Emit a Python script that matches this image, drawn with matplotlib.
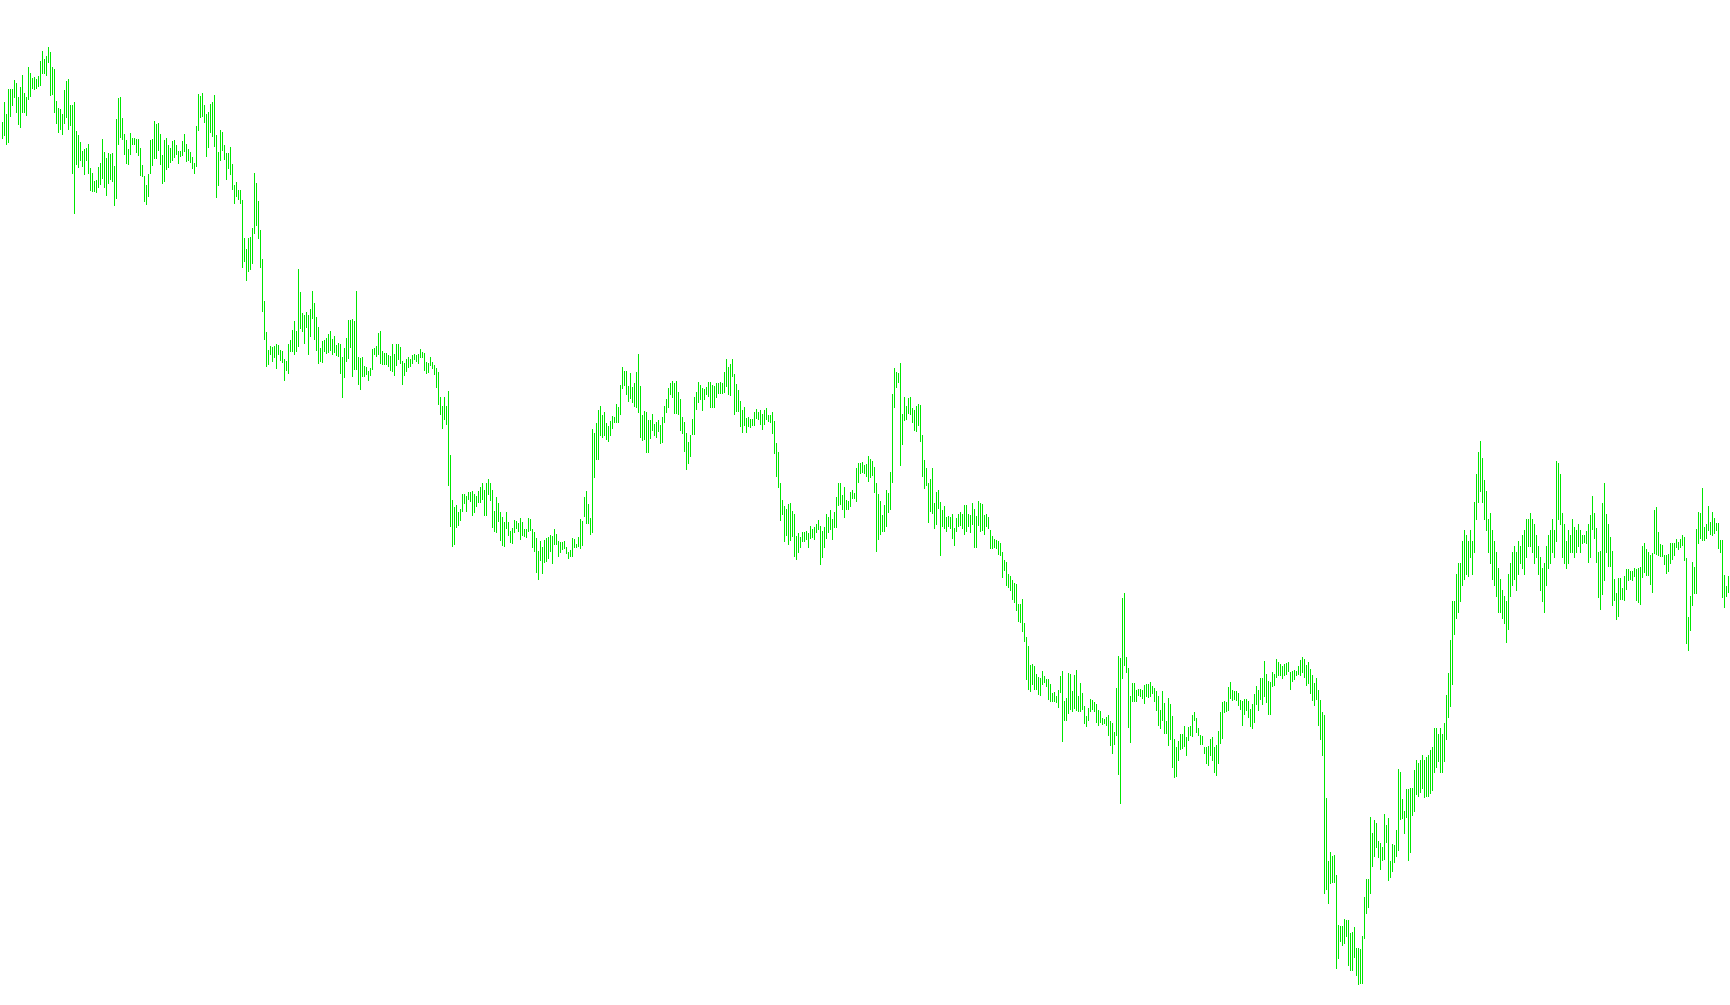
import numpy as np
import matplotlib.pyplot as plt

# bar chart, one high-low bar per period (price units = pixels above the bottom edge)
high = [
    883, 903, 891, 916, 916, 916, 925, 922, 908, 918, 930, 912, 908, 938, 932, 927, 928, 926, 929, 944,
    954, 946, 949, 958, 953, 938, 936, 904, 897, 896, 891, 915, 924, 926, 900, 900, 903, 874, 870, 863,
    854, 856, 857, 861, 837, 832, 824, 825, 838, 842, 866, 853, 847, 852, 851, 852, 839, 886, 907, 908,
    887, 871, 865, 856, 872, 867, 867, 866, 866, 857, 840, 829, 820,
    831, 865, 866, 884, 881, 882, 871, 850, 865, 867, 860, 857, 864, 865, 860, 854, 854, 864, 871, 861,
    856, 853, 848, 842, 879, 911, 909, 912, 900, 891, 893, 901, 903, 910, 870, 853, 875, 873, 860, 852,
    852, 858, 841, 820, 823, 815, 815, 805, 767, 756, 767, 768, 777, 832, 822, 804, 775, 746, 704, 673,
    655, 659, 658, 659, 661, 660, 655, 654, 646, 644, 661, 665,
    675, 684, 674, 736, 713, 692, 690, 693, 690, 696, 714, 702, 688, 678, 657, 664, 665, 667, 671, 674,
    666, 669, 660, 662, 661, 648, 657, 667, 685, 685, 686, 684, 714, 648, 647, 648, 639, 638, 634, 637,
    656, 657, 659, 672, 674, 654, 652, 652, 650, 649, 661, 651, 661, 661, 658, 644, 642, 646, 648, 646,
    650, 651, 650, 651, 656, 653, 652, 643, 642, 648, 643, 640,
    637, 633, 608, 599, 608, 599, 614, 550, 505, 498, 500, 493, 496, 511, 511, 509, 513, 513, 514, 511,
    509, 514, 518, 522, 515, 522, 526, 522, 515, 494, 508, 502, 493, 488, 483, 493, 483, 474, 477, 485,
    484, 482, 487, 483, 476, 476, 487, 486, 476, 473, 467, 454, 464, 458, 465, 467, 468, 470, 469, 476,
    471, 464, 463, 463, 464, 458, 453, 455, 467, 466, 461, 468,
    486, 484, 508, 514, 501, 487, 576, 572, 582, 595, 599, 590, 593, 582, 579, 584, 589, 588, 601, 598,
    620, 638, 634, 634, 619, 632, 618, 622, 633, 651, 619, 590, 594, 593, 585, 585, 591, 581, 583, 585,
    580, 588, 599, 606, 617, 622, 624, 622, 624, 613, 606, 588, 583, 572, 563, 570, 586, 608, 613, 623,
    620, 617, 616, 618, 623, 623, 620, 619, 622, 622, 623, 622,
    633, 646, 638, 641, 646, 631, 621, 615, 604, 595, 598, 587, 588, 586, 586, 593, 596, 593, 595, 591,
    595, 597, 590, 590, 593, 584, 562, 553, 522, 505, 499, 496, 501, 502, 494, 491, 469, 472, 468, 473,
    473, 474, 472, 479, 476, 478, 481, 485, 479, 474, 478, 491, 488, 495, 486, 493, 508, 522, 522, 510,
    518, 505, 504, 513, 515, 512, 537, 542, 542, 543, 540, 541,
    549, 546, 544, 538, 522, 511, 504, 490, 500, 515, 512, 533, 611, 637, 633, 632, 642, 591, 608, 599,
    607, 608, 597, 595, 599, 601, 600, 570, 545, 537, 522, 526, 537, 502, 513, 515, 503, 495, 499, 488,
    489, 488, 491, 477, 487, 491, 493, 491, 500, 500, 491, 490, 502, 496, 489, 504, 502, 501, 490, 491,
    488, 475, 469, 466, 465, 464, 462, 453, 445, 443, 431, 429,
    425, 422, 421, 401, 401, 406, 382, 368, 359, 340, 341, 339, 331, 328, 327, 334, 329, 326, 326, 321,
    312, 313, 309, 315, 329, 334, 304, 307, 332, 331, 314, 330, 335, 309, 322, 312, 299, 289, 297, 306,
    305, 303, 301, 295, 294, 287, 286, 288, 290, 284, 282, 273, 317, 349, 347, 407, 412, 348, 337, 309,
    322, 322, 315, 316, 316, 315, 320, 321, 321, 323, 319, 317,
    314, 309, 295, 314, 302, 284, 307, 301, 289, 266, 258, 264, 271, 271, 279, 268, 278, 279, 290, 293,
    287, 277, 270, 269, 258, 258, 259, 266, 268, 258, 260, 274, 293, 303, 304, 303, 318, 323, 315, 314,
    314, 312, 305, 304, 306, 306, 304, 296, 301, 311, 319, 315, 327, 327, 344, 331, 324, 323, 333, 331,
    346, 343, 341, 339, 341, 342, 343, 333, 334, 335, 334, 339,
    345, 348, 346, 340, 343, 336, 330, 322, 327, 315, 305, 293,
    290, 207, 144, 153, 149, 150, 130, 80, 79, 79, 86, 85, 85, 72, 73, 78, 57, 57, 56, 69,
    108, 126, 126, 188, 172, 185, 182, 164, 162, 158, 191, 180, 187, 144, 161, 160, 175, 236, 233, 206,
    194, 216, 216, 217, 217, 235, 245, 242, 245, 250, 245, 248, 250, 255, 258,
    277, 277, 271, 277, 271, 282, 310, 332, 365, 404, 404, 431, 442, 442, 464, 475, 470, 464, 475, 464,
    503, 531, 553, 564, 547, 525, 514, 486, 492, 475, 464, 453, 437, 426, 415, 409, 404, 431, 442, 453,
    459, 453, 464, 459, 470, 475, 486, 486, 492, 486, 481, 470, 459, 448, 437, 442, 459, 470, 475, 486,
    475, 544, 542, 531, 492, 481, 464, 475, 470, 486, 478, 475, 481, 475,
    470, 470, 474, 481, 490, 509, 492, 477, 453, 454, 502, 522, 491, 481, 468, 454, 426, 412, 427, 427,
    417, 429, 436, 436, 434, 434, 437, 436, 437, 438, 459, 462, 456, 453, 450, 452, 495, 498, 473, 461,
    460, 450, 450, 451, 462, 462, 462, 466, 463, 466, 470, 468, 447, 388, 409, 443, 438, 476, 493, 492,
    517, 478, 481, 499, 483, 493, 487, 482, 482, 465, 465, 430, 419, 429,
]

low = [
    867, 870, 861, 863, 889, 900, 908, 893, 881, 878, 893, 893, 890, 906, 909, 917, 916, 917, 919, 920,
    932, 932, 930, 943, 910, 911, 893, 882, 873, 876, 871, 882, 888, 876, 880, 832, 792, 841, 838, 845,
    839, 831, 845, 832, 815, 814, 814, 813, 818, 821, 827, 818, 810, 822, 826, 824, 800, 807, 861, 868,
    866, 851, 842, 841, 851, 861, 861, 853, 850, 830, 829, 804, 801,
    809, 832, 840, 847, 847, 855, 841, 822, 824, 836, 838, 843, 845, 848, 851, 842, 849, 850, 854, 844,
    845, 843, 837, 832, 839, 875, 888, 889, 883, 849, 858, 873, 869, 859, 808, 820, 845, 855, 846, 826,
    837, 831, 816, 802, 809, 806, 802, 738, 744, 725, 734, 736, 742, 772, 780, 767, 738, 694, 666, 639,
    641, 651, 644, 648, 637, 651, 645, 643, 625, 635, 632, 654,
    654, 651, 654, 659, 677, 674, 662, 678, 651, 669, 687, 666, 655, 642, 644, 643, 654, 652, 653, 655,
    651, 653, 650, 649, 632, 608, 628, 644, 647, 658, 629, 636, 636, 621, 616, 629, 629, 631, 625, 630,
    636, 651, 649, 651, 642, 641, 641, 641, 639, 635, 634, 630, 640, 646, 642, 621, 630, 634, 638, 639,
    642, 646, 644, 642, 648, 648, 635, 632, 633, 640, 637, 631,
    618, 601, 591, 577, 586, 581, 520, 479, 459, 461, 478, 480, 485, 494, 502, 494, 506, 504, 490, 493,
    499, 503, 503, 506, 490, 490, 511, 505, 478, 474, 473, 484, 465, 460, 459, 477, 470, 463, 462, 473,
    477, 474, 466, 470, 469, 468, 474, 475, 458, 454, 433, 426, 445, 432, 443, 444, 447, 454, 442, 461,
    461, 449, 453, 456, 457, 452, 447, 449, 449, 458, 458, 459,
    457, 460, 489, 482, 482, 471, 473, 528, 546, 546, 570, 568, 570, 566, 564, 570, 577, 583, 583, 583,
    591, 617, 620, 611, 604, 607, 603, 599, 598, 593, 568, 565, 566, 553, 553, 567, 575, 570, 568, 574,
    562, 563, 583, 593, 598, 611, 608, 592, 592, 591, 575, 572, 554, 536, 542, 549, 571, 571, 596, 603,
    606, 595, 606, 611, 609, 598, 598, 598, 608, 612, 612, 612,
    613, 619, 611, 610, 629, 591, 594, 594, 579, 573, 580, 573, 579, 578, 580, 580, 587, 586, 581, 576,
    581, 586, 584, 583, 572, 552, 529, 518, 485, 491, 464, 470, 461, 465, 469, 449, 446, 453, 458, 464,
    464, 466, 458, 467, 468, 466, 473, 476, 441, 448, 458, 467, 473, 476, 466, 478, 478, 500, 501, 496,
    488, 496, 496, 499, 507, 507, 504, 523, 532, 533, 532, 529,
    524, 528, 530, 513, 454, 466, 471, 474, 474, 479, 493, 496, 523, 598, 618, 623, 540, 561, 585, 586,
    592, 591, 583, 575, 574, 580, 564, 529, 517, 520, 483, 494, 492, 477, 481, 497, 450, 479, 477, 474,
    479, 477, 467, 460, 474, 479, 480, 477, 471, 474, 479, 473, 481, 458, 458, 480, 474, 475, 471, 479,
    477, 457, 457, 458, 457, 451, 450, 428, 435, 420, 418, 415,
    406, 403, 395, 384, 383, 374, 364, 326, 316, 314, 321, 316, 316, 311, 310, 321, 323, 319, 306, 304,
    304, 304, 303, 298, 313, 264, 285, 285, 292, 296, 294, 297, 295, 294, 294, 296, 282, 279, 285, 294,
    296, 294, 283, 280, 283, 281, 282, 280, 270, 260, 252, 261, 270, 231, 202, 327, 340, 333, 278, 263,
    304, 304, 304, 310, 309, 307, 302, 309, 308, 309, 312, 304,
    295, 280, 277, 285, 272, 272, 260, 266, 238, 228, 229, 245, 256, 257, 259, 250, 265, 270, 269, 285,
    273, 270, 261, 261, 252, 242, 240, 250, 245, 233, 230, 242, 262, 267, 293, 294, 295, 307, 305, 306,
    305, 300, 296, 280, 291, 295, 288, 279, 277, 283, 301, 295, 306, 301, 309, 303, 291, 291, 319, 320,
    328, 330, 330, 327, 330, 331, 334, 316, 324, 326, 330, 331,
    330, 333, 328, 320, 322, 312, 305, 300, 306, 280, 266, 250,
    112, 116, 102, 122, 123, 123, 37, 47, 64, 60, 62, 69, 40, 35, 35, 48, 30, 21, 22, 22,
    67, 92, 98, 112, 139, 149, 158, 148, 136, 145, 146, 163, 125, 128, 134, 143, 149, 155, 186, 187,
    172, 188, 145, 153, 190, 194, 211, 209, 213, 217, 208, 209, 209, 212, 215,
    233, 238, 244, 233, 233, 244, 266, 288, 299, 321, 371, 387, 393, 404, 420, 426, 431, 429, 448, 431,
    453, 486, 503, 514, 503, 486, 475, 453, 442, 426, 420, 409, 393, 393, 387, 382, 363, 376, 409, 420,
    426, 415, 431, 442, 437, 431, 448, 459, 459, 453, 442, 448, 431, 415, 404, 393, 420, 437, 442, 453,
    448, 464, 486, 481, 448, 442, 437, 442, 453, 453, 448, 453, 459, 453,
    462, 463, 462, 443, 448, 476, 467, 443, 408, 396, 411, 425, 453, 439, 439, 400, 405, 386, 389, 406,
    406, 405, 416, 425, 426, 425, 429, 405, 403, 401, 428, 433, 430, 430, 421, 413, 452, 451, 450, 449,
    449, 441, 432, 434, 442, 446, 450, 458, 456, 458, 460, 445, 362, 355, 375, 400, 412, 412, 462, 467,
    465, 465, 467, 475, 471, 470, 472, 475, 457, 453, 408, 398, 409, 413,
]

x = np.arange(len(high))

fig = plt.figure(figsize=(17.30, 10.05), dpi=100)
ax = fig.add_axes([0, 0, 1, 1])
ax.vlines(x, low, high, colors='#00e600', linewidth=0.72, antialiased=False)

# one bar every 2 px, no axes at all
ax.set_xlim(-0.75, 864.25)
ax.set_ylim(0, 1005)
ax.axis('off')

fig.savefig('out.png', dpi=100, facecolor='white')
